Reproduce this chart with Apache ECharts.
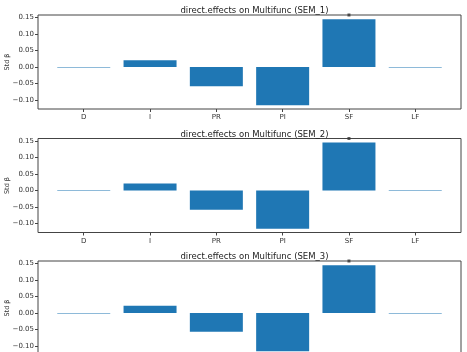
<!DOCTYPE html>
<html><head><meta charset="utf-8">
<script src="https://cdn.jsdelivr.net/npm/echarts@6/dist/echarts.min.js"></script>
<style>html,body{margin:0;padding:0;background:#fff}#c{width:467px;height:352px}</style>
</head><body><div id="c"></div>
<script>
const categories = ["D", "I", "PR", "PI", "SF", "LF"];
const titles = ["direct.effects on Multifunc (SEM_1)", "direct.effects on Multifunc (SEM_2)", "direct.effects on Multifunc (SEM_3)"];
const sem1 = [-0.0015, 0.020, -0.058, -0.116, 0.1445, -0.0015];
const sem2 = [-0.0015, 0.021, -0.058, -0.116, 0.145, -0.0015];
const sem3 = [-0.0015, 0.022, -0.057, -0.116, 0.1445, -0.0015];
const sigIndex = [4, 4, 4];
const yTicks = [-0.10, -0.05, 0.00, 0.05, 0.10, 0.15];
const semValues = [sem1, sem2, sem3];

const chart = echarts.init(document.getElementById('c'), null, {renderer: 'canvas'});
const gridTops = [15, 138.5, 261];
const gridH = 94;
const left = 38, right = 6;
const axisColor = '#444';
const textColor = '#333';
const fontFamily = 'DejaVu Sans';
const fmtY = v => { const s = Math.abs(v) < 1e-9 ? '0.00' : v.toFixed(2); return s.replace('-', '\u2212'); };

const opt = {animation: false, title: [], grid: [], xAxis: [], yAxis: [], series: []};
semValues.forEach((vals, k) => {
  opt.title.push({text: titles[k], left: (left + 467 - right) / 2, top: gridTops[k] - 13.5, textAlign: 'center',
    textStyle: {fontFamily, fontSize: 8.5, fontWeight: 'normal', color: '#222'}});
  opt.grid.push({left, right, top: gridTops[k], height: gridH, show: true, borderColor: axisColor, borderWidth: 1,
    backgroundColor: 'transparent', outerBoundsMode: 'none', containLabel: false});
  opt.xAxis.push({type: 'value', gridIndex: k, min: -0.69, max: 5.69, position: 'bottom',
    axisLine: {show: false, onZero: false}, splitLine: {show: false},
    axisTick: {show: true, inside: false, length: 3, customValues: [0,1,2,3,4,5], lineStyle: {color: axisColor}},
    axisLabel: {customValues: [0,1,2,3,4,5], formatter: v => categories[Math.round(v)], fontFamily, fontSize: 7, color: textColor, margin: 5}});
  opt.yAxis.push({type: 'value', gridIndex: k, min: -0.127, max: 0.157, position: 'left',
    name: 'Std \u03b2', nameLocation: 'middle', nameGap: 27, nameRotate: 90, nameMoveOverlap: false,
    nameTextStyle: {fontFamily, fontSize: 6.5, color: textColor},
    axisLine: {show: false, onZero: false}, splitLine: {show: false},
    axisTick: {show: true, inside: false, length: 3, customValues: yTicks, lineStyle: {color: axisColor}},
    axisLabel: {customValues: yTicks, formatter: fmtY, fontFamily, fontSize: 7, color: textColor, margin: 4}});
  opt.series.push({type: 'bar', xAxisIndex: k, yAxisIndex: k, barWidth: 53,
    data: vals.map((v, i) => [i, v]), itemStyle: {color: '#1f77b4'}, clip: true});
  opt.series.push({type: 'scatter', xAxisIndex: k, yAxisIndex: k, symbol: 'rect', symbolSize: 3,
    data: [[sigIndex[k], 0.157]], itemStyle: {color: '#333'}, clip: false});
});
chart.setOption(opt);
</script></body></html>
